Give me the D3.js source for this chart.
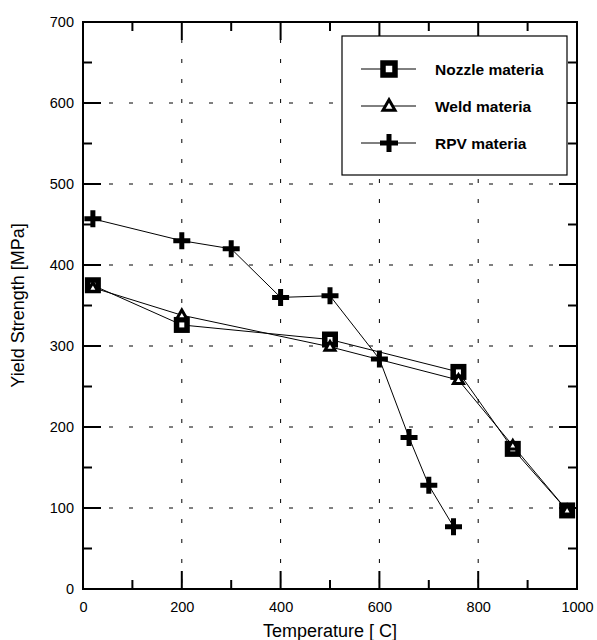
<!DOCTYPE html>
<html>
<head>
<meta charset="utf-8">
<script src="https://cdn.jsdelivr.net/npm/d3@7"></script>
<style>
  html, body { margin: 0; padding: 0; background: #fff; }
  svg { display: block; font-family: "Liberation Sans", Arial, sans-serif; }
</style>
</head>
<body>
<svg id="chart" width="597" height="640"></svg>
<script>
// Yield strength versus temperature for three materials
const nozzleTemp = [20, 200, 500, 760, 870, 980];
const nozzleYS   = [375, 326, 308, 268, 173, 97];

const weldTemp = [20, 200, 500, 760, 870, 980];
const weldYS   = [372, 338, 299, 258, 177, 97];

const rpvTemp = [20, 200, 300, 400, 500, 600, 660, 700, 750];
const rpvYS   = [457, 430, 420, 360, 362, 284, 187, 128, 77];

const seriesNames = ["Nozzle materia", "Weld materia", "RPV materia"];
const xTicks = [0, 200, 400, 600, 800, 1000];
const yTicks = [0, 100, 200, 300, 400, 500, 600, 700];
const xMinor = [100, 300, 500, 700, 900];
const yMinor = [50, 150, 250, 350, 450, 550, 650];

const margin = { left: 83, top: 22, right: 20, bottom: 51 };
const W = 597, H = 640;
const iw = W - margin.left - margin.right;   // 494
const ih = H - margin.top - margin.bottom;   // 567

const svg = d3.select("#chart");
const g = svg.append("g").attr("transform", `translate(${margin.left},${margin.top})`);

const x = d3.scaleLinear().domain([0, 1000]).range([0, iw]);
const y = d3.scaleLinear().domain([0, 700]).range([ih, 0]);

// dashed grid
const grid = g.append("g").attr("stroke", "#000").attr("stroke-width", 1)
  .attr("stroke-dasharray", "4,16");
grid.selectAll("line.gx").data(xTicks.filter(d => d > 0 && d < 1000)).join("line")
  .attr("class", "gx")
  .attr("x1", d => x(d)).attr("x2", d => x(d))
  .attr("y1", ih).attr("y2", 0).attr("stroke-dashoffset", -6);
grid.selectAll("line.gy").data(yTicks.filter(d => d > 0 && d < 700)).join("line")
  .attr("class", "gy")
  .attr("x1", 0).attr("x2", iw)
  .attr("y1", d => y(d)).attr("y2", d => y(d)).attr("stroke-dashoffset", -6);

// tick labels from d3 axes
function styleAxis(sel) {
  sel.select(".domain").remove();
  sel.selectAll(".tick line").remove();
  sel.selectAll("text").attr("font-size", 14.5).attr("fill", "#000")
    .attr("font-family", "'Liberation Sans', Arial, sans-serif");
}
g.append("g").attr("transform", `translate(0,${ih})`)
  .call(d3.axisBottom(x).tickValues(xTicks).tickFormat(d3.format("d")).tickSize(0).tickPadding(13))
  .call(styleAxis);
g.append("g")
  .call(d3.axisLeft(y).tickValues(yTicks).tickFormat(d3.format("d")).tickSize(0).tickPadding(9))
  .call(styleAxis);

// inward tick marks on all four sides
const majorLen = 18, minorLen = 9;
const tickG = g.append("g").attr("stroke", "#000").attr("stroke-width", 2);
const xTickSet = xTicks.map(v => [v, majorLen]).concat(xMinor.map(v => [v, minorLen]));
const yTickSet = yTicks.map(v => [v, majorLen]).concat(yMinor.map(v => [v, minorLen]));
tickG.selectAll("line.xb").data(xTickSet).join("line").attr("class", "xb")
  .attr("x1", d => x(d[0])).attr("x2", d => x(d[0]))
  .attr("y1", ih).attr("y2", d => ih - d[1]);
tickG.selectAll("line.xt").data(xTickSet).join("line").attr("class", "xt")
  .attr("x1", d => x(d[0])).attr("x2", d => x(d[0]))
  .attr("y1", 0).attr("y2", d => d[1]);
tickG.selectAll("line.yl").data(yTickSet).join("line").attr("class", "yl")
  .attr("x1", 0).attr("x2", d => d[1])
  .attr("y1", d => y(d[0])).attr("y2", d => y(d[0]));
tickG.selectAll("line.yr").data(yTickSet).join("line").attr("class", "yr")
  .attr("x1", iw).attr("x2", d => iw - d[1])
  .attr("y1", d => y(d[0])).attr("y2", d => y(d[0]));

// frame
g.append("rect").attr("x", 0).attr("y", 0).attr("width", iw).attr("height", ih)
  .attr("fill", "none").attr("stroke", "#000").attr("stroke-width", 2);

// axis titles
svg.append("text").attr("x", margin.left + iw / 2).attr("y", 637)
  .attr("text-anchor", "middle").attr("font-size", 18).text("Temperature [ C]");
svg.append("text").attr("transform", `translate(24,${margin.top + ih / 2}) rotate(-90)`)
  .attr("text-anchor", "middle").attr("font-size", 18).text("Yield Strength [MPa]");

// marker drawers
function square(sel, s) {
  sel.append("rect").attr("x", -s / 2).attr("y", -s / 2).attr("width", s).attr("height", s)
    .attr("fill", "#fff").attr("stroke", "#000").attr("stroke-width", 5.5);
}
function triangle(sel, s) {
  const h = s * 0.87;
  sel.append("path")
    .attr("d", `M0,${-h * 0.6}L${s / 2},${h * 0.4}L${-s / 2},${h * 0.4}Z`)
    .attr("fill", "#fff").attr("stroke", "#000").attr("stroke-width", 3)
    .attr("stroke-linejoin", "miter");
}
function plus(sel, s) {
  sel.append("path")
    .attr("d", `M${-s / 2},0H${s / 2}M0,${-s / 2}V${s / 2}`)
    .attr("stroke", "#000").attr("stroke-width", 5).attr("fill", "none");
}

const line = d3.line().x(d => x(d[0])).y(d => y(d[1]));
const series = [
  { temp: nozzleTemp, ys: nozzleYS, draw: s => square(s, 10.5) },
  { temp: weldTemp, ys: weldYS, draw: s => triangle(s, 10) },
  { temp: rpvTemp, ys: rpvYS, draw: s => plus(s, 17) }
];

// connecting lines first, then markers on top
series.forEach(sr => {
  const pts = sr.temp.map((t, i) => [t, sr.ys[i]]);
  g.append("path").datum(pts).attr("d", line)
    .attr("fill", "none").attr("stroke", "#000").attr("stroke-width", 1);
});
series.forEach(sr => {
  const pts = sr.temp.map((t, i) => [t, sr.ys[i]]);
  g.append("g").selectAll("g").data(pts).join("g")
    .attr("transform", d => `translate(${x(d[0])},${y(d[1])})`)
    .each(function () { sr.draw(d3.select(this)); });
});

// legend
const lg = svg.append("g");
lg.append("rect").attr("x", 342).attr("y", 36).attr("width", 225).attr("height", 139)
  .attr("fill", "#fff").attr("stroke", "#000").attr("stroke-width", 1.2);
const legendRows = [69, 106, 143];
const legendMarkers = [s => square(s, 12), s => triangle(s, 12), s => plus(s, 18)];
seriesNames.forEach((name, i) => {
  const row = lg.append("g").attr("transform", `translate(0,${legendRows[i]})`);
  row.append("line").attr("x1", 361).attr("x2", 416).attr("y1", 0).attr("y2", 0)
    .attr("stroke", "#000").attr("stroke-width", 1);
  const m = row.append("g").attr("transform", "translate(389,0)");
  legendMarkers[i](m);
  row.append("text").attr("x", 435).attr("y", 0).attr("dy", "0.36em")
    .attr("font-size", 15.5).attr("font-weight", "bold").text(name);
});
</script>
</body>
</html>
